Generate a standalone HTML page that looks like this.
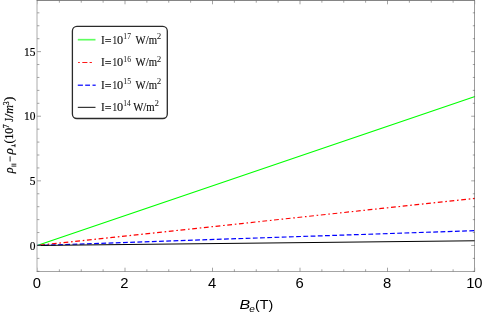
<!DOCTYPE html>
<html><head><meta charset="utf-8"><title>plot</title>
<style>html,body{margin:0;padding:0;background:#fff;width:484px;height:313px;overflow:hidden}</style></head>
<body>
<svg width="484" height="313" viewBox="0 0 484 313" style="position:absolute;left:0;top:0;will-change:transform;">
<g fill="none" stroke-width="1.2">
<line x1="37.20" y1="245.47" x2="475.00" y2="96.46" stroke="#00ff00"/>
<line x1="37.20" y1="245.47" x2="475.00" y2="198.43" stroke="#ff0000" stroke-dasharray="4.8 2.75 1.6 2.613" stroke-dashoffset="-2.95"/>
<line x1="37.20" y1="245.47" x2="475.00" y2="230.61" stroke="#0000ff" stroke-dasharray="4.8 2.42" stroke-dashoffset="0.8"/>
<line x1="37.20" y1="245.47" x2="475.00" y2="240.77" stroke="#000" stroke-width="1.0"/>
</g>
<g stroke="#666" stroke-width="0.6" fill="none">
<path d="M37.0 0V271.8" stroke-width="0.55"/><path d="M474.5 0V271.8" stroke-width="0.65"/><path d="M36.7 0.5H474.8" stroke-width="0.8"/><path d="M36.7 271.5H474.8" stroke-width="0.6"/>
<path d="M37.50 271.5v-3.8M37.50 0.5v3.8" opacity="0.35"/>
<path d="M59.38 271.5v-2.2M59.38 0.5v2.2"/>
<path d="M81.25 271.5v-2.2M81.25 0.5v2.2"/>
<path d="M103.12 271.5v-2.2M103.12 0.5v2.2"/>
<path d="M125.00 271.5v-3.8M125.00 0.5v3.8"/>
<path d="M146.88 271.5v-2.2M146.88 0.5v2.2"/>
<path d="M168.75 271.5v-2.2M168.75 0.5v2.2"/>
<path d="M190.62 271.5v-2.2M190.62 0.5v2.2"/>
<path d="M212.50 271.5v-3.8M212.50 0.5v3.8"/>
<path d="M234.38 271.5v-2.2M234.38 0.5v2.2"/>
<path d="M256.25 271.5v-2.2M256.25 0.5v2.2"/>
<path d="M278.12 271.5v-2.2M278.12 0.5v2.2"/>
<path d="M300.00 271.5v-3.8M300.00 0.5v3.8"/>
<path d="M321.88 271.5v-2.2M321.88 0.5v2.2"/>
<path d="M343.75 271.5v-2.2M343.75 0.5v2.2"/>
<path d="M365.62 271.5v-2.2M365.62 0.5v2.2"/>
<path d="M387.50 271.5v-3.8M387.50 0.5v3.8"/>
<path d="M409.38 271.5v-2.2M409.38 0.5v2.2"/>
<path d="M431.25 271.5v-2.2M431.25 0.5v2.2"/>
<path d="M453.12 271.5v-2.2M453.12 0.5v2.2"/>
<path d="M475.00 271.5v-3.8M475.00 0.5v3.8" opacity="0.35"/>
<path d="M37.20 271.32h2.2M475.00 271.32h-2.2"/>
<path d="M37.20 258.39h2.2M475.00 258.39h-2.2"/>
<path d="M37.20 245.47h3.8M475.00 245.47h-3.8"/>
<path d="M37.20 232.55h2.2M475.00 232.55h-2.2"/>
<path d="M37.20 219.62h2.2M475.00 219.62h-2.2"/>
<path d="M37.20 206.70h2.2M475.00 206.70h-2.2"/>
<path d="M37.20 193.77h2.2M475.00 193.77h-2.2"/>
<path d="M37.20 180.85h3.8M475.00 180.85h-3.8"/>
<path d="M37.20 167.93h2.2M475.00 167.93h-2.2"/>
<path d="M37.20 155.00h2.2M475.00 155.00h-2.2"/>
<path d="M37.20 142.08h2.2M475.00 142.08h-2.2"/>
<path d="M37.20 129.15h2.2M475.00 129.15h-2.2"/>
<path d="M37.20 116.23h3.8M475.00 116.23h-3.8"/>
<path d="M37.20 103.31h2.2M475.00 103.31h-2.2"/>
<path d="M37.20 90.38h2.2M475.00 90.38h-2.2"/>
<path d="M37.20 77.46h2.2M475.00 77.46h-2.2"/>
<path d="M37.20 64.53h2.2M475.00 64.53h-2.2"/>
<path d="M37.20 51.61h3.8M475.00 51.61h-3.8"/>
<path d="M37.20 38.69h2.2M475.00 38.69h-2.2"/>
<path d="M37.20 25.76h2.2M475.00 25.76h-2.2"/>
<path d="M37.20 12.84h2.2M475.00 12.84h-2.2"/>
</g>
<text transform="translate(32.83,287.55) scale(1.000,1)" font-family="Liberation Sans, serif" font-size="14.8" fill="#000">0</text>
<text transform="translate(120.37,287.55) scale(1.000,1)" font-family="Liberation Sans, serif" font-size="14.8" fill="#000">2</text>
<text transform="translate(207.96,287.55) scale(1.000,1)" font-family="Liberation Sans, serif" font-size="14.8" fill="#000">4</text>
<text transform="translate(295.40,287.55) scale(1.000,1)" font-family="Liberation Sans, serif" font-size="14.8" fill="#000">6</text>
<text transform="translate(382.99,287.55) scale(1.000,1)" font-family="Liberation Sans, serif" font-size="14.8" fill="#000">8</text>
<text transform="translate(466.14,287.55) scale(1.000,1)" font-family="Liberation Sans, serif" font-size="14.8" fill="#000">10</text>
<g font-family="Liberation Serif, serif" font-size="11.7" fill="#000" text-anchor="end" stroke="#000" stroke-width="0.18">
<text transform="translate(35.5,249.72) scale(0.98,1.1)">0</text>
<text transform="translate(35.5,185.10) scale(0.98,1.1)">5</text>
<text transform="translate(35.5,120.48) scale(0.98,1.1)">10</text>
<text transform="translate(35.5,55.86) scale(0.98,1.1)">15</text>
</g>
<text transform="translate(239.46,308.75) scale(1.227,1)" font-family="Liberation Sans, serif" font-style="italic" font-size="13" fill="#000">B</text>
<text transform="translate(249.16,312.05) scale(1.097,1)" font-family="Liberation Sans, serif" font-style="italic" font-size="9.2" fill="#000">e</text>
<text transform="translate(254.96,308.75) scale(1.101,1)" font-family="Liberation Sans, serif" font-size="13" fill="#000">(T)</text>
<g transform="rotate(-90)">
<text transform="translate(-173.19,12.60) scale(1.043,1)" font-family="Liberation Serif, serif" font-style="italic" font-size="11.7" fill="#000" stroke="#000" stroke-width="0.2">ρ</text>
<text transform="translate(-154.56,12.60) scale(1.133,1)" font-family="Liberation Serif, serif" font-style="italic" font-size="11.7" fill="#000" stroke="#000" stroke-width="0.2">ρ</text>
<text transform="translate(-143.52,12.60) scale(1.004,1)" font-family="Liberation Serif, serif" font-size="11.7" fill="#000" stroke="#000" stroke-width="0.2">(10</text>
<text transform="translate(-128.32,8.50) scale(1.025,1)" font-family="Liberation Serif, serif" font-size="7.7" fill="#000" stroke="#000" stroke-width="0.2">7</text>
<text transform="translate(-121.81,12.60) scale(0.862,1)" font-family="Liberation Serif, serif" font-size="11.7" fill="#000" stroke="#000" stroke-width="0.2">J</text>
<text transform="translate(-117.80,12.90) scale(1.323,1)" font-family="Liberation Serif, serif" font-size="11.7" fill="#000" stroke="#000" stroke-width="0.2">/</text>
<text transform="translate(-113.84,12.60) scale(1.035,1)" font-family="Liberation Serif, serif" font-style="italic" font-size="11.7" fill="#000" stroke="#000" stroke-width="0.2">m</text>
<text transform="translate(-105.27,8.50) scale(1.006,1)" font-family="Liberation Serif, serif" font-size="7.7" fill="#000" stroke="#000" stroke-width="0.2">3</text>
<text transform="translate(-100.93,12.60) scale(1.131,1)" font-family="Liberation Serif, serif" font-size="11.7" fill="#000" stroke="#000" stroke-width="0.2">)</text>
</g>
<path d="M11.5 164.2H16.3M11.5 166.1H16.3M10.1 156.3V161.5M15.0 144V147.2M11.4 145.6H15.0" stroke="#000" stroke-width="0.85" fill="none"/>
<rect x="72.4" y="26.4" width="94.9" height="92.1" rx="4.5" ry="4.5" fill="#fff" stroke="#2a2a2a" stroke-width="1.3"/>
<path d="M77.8 39.7H95.5" stroke="#00ff00" stroke-width="1.7" opacity="0.62"/>
<text transform="translate(100.94,43.80) scale(0.963,1)" font-family="Liberation Serif, serif" font-size="11.7" fill="#111" stroke="#111" stroke-width="0.14">I</text>
<text transform="translate(104.80,44.70) scale(1.029,1)" font-family="Liberation Serif, serif" font-size="11.7" fill="#111" stroke="#111" stroke-width="0.14">=</text>
<text transform="translate(112.50,43.80) scale(0.777,1)" font-family="Liberation Serif, serif" font-size="11.7" fill="#111" stroke="#111" stroke-width="0.14">1</text>
<text transform="translate(117.03,43.80) scale(1.049,1)" font-family="Liberation Serif, serif" font-size="11.7" fill="#111" stroke="#111" stroke-width="0.14">0</text>
<text transform="translate(123.32,39.10) scale(1.026,1)" font-family="Liberation Serif, serif" font-size="7.5" fill="#111" stroke="#111" stroke-width="0">17</text>
<text transform="translate(135.59,43.80) scale(0.918,1)" font-family="Liberation Serif, serif" font-size="11.7" fill="#111" stroke="#111" stroke-width="0.14">W/m</text>
<text transform="translate(156.81,39.10) scale(1.197,1)" font-family="Liberation Serif, serif" font-size="7.5" fill="#111" stroke="#111" stroke-width="0">2</text>
<path d="M78.1 62.5h1.7M82.3 62.5h5.1M89.6 62.5h2.3" stroke="#ff0000" stroke-width="1.15" opacity="0.9"/>
<text transform="translate(100.94,66.20) scale(0.963,1)" font-family="Liberation Serif, serif" font-size="11.7" fill="#111" stroke="#111" stroke-width="0.14">I</text>
<text transform="translate(104.80,67.10) scale(1.029,1)" font-family="Liberation Serif, serif" font-size="11.7" fill="#111" stroke="#111" stroke-width="0.14">=</text>
<text transform="translate(112.50,66.20) scale(0.777,1)" font-family="Liberation Serif, serif" font-size="11.7" fill="#111" stroke="#111" stroke-width="0.14">1</text>
<text transform="translate(117.03,66.20) scale(1.049,1)" font-family="Liberation Serif, serif" font-size="11.7" fill="#111" stroke="#111" stroke-width="0.14">0</text>
<text transform="translate(123.32,61.50) scale(1.028,1)" font-family="Liberation Serif, serif" font-size="7.5" fill="#111" stroke="#111" stroke-width="0">16</text>
<text transform="translate(135.59,66.20) scale(0.918,1)" font-family="Liberation Serif, serif" font-size="11.7" fill="#111" stroke="#111" stroke-width="0.14">W/m</text>
<text transform="translate(156.81,61.50) scale(1.197,1)" font-family="Liberation Serif, serif" font-size="7.5" fill="#111" stroke="#111" stroke-width="0">2</text>
<path d="M77.8 85.2h5.1M85.2 85.2h4.8M92.5 85.2h3.2" stroke="#0000ff" stroke-width="1.4" opacity="0.8"/>
<text transform="translate(100.94,88.80) scale(0.963,1)" font-family="Liberation Serif, serif" font-size="11.7" fill="#111" stroke="#111" stroke-width="0.14">I</text>
<text transform="translate(104.80,89.70) scale(1.029,1)" font-family="Liberation Serif, serif" font-size="11.7" fill="#111" stroke="#111" stroke-width="0.14">=</text>
<text transform="translate(112.50,88.80) scale(0.777,1)" font-family="Liberation Serif, serif" font-size="11.7" fill="#111" stroke="#111" stroke-width="0.14">1</text>
<text transform="translate(117.03,88.80) scale(1.049,1)" font-family="Liberation Serif, serif" font-size="11.7" fill="#111" stroke="#111" stroke-width="0.14">0</text>
<text transform="translate(123.32,84.10) scale(1.039,1)" font-family="Liberation Serif, serif" font-size="7.5" fill="#111" stroke="#111" stroke-width="0">15</text>
<text transform="translate(135.59,88.80) scale(0.918,1)" font-family="Liberation Serif, serif" font-size="11.7" fill="#111" stroke="#111" stroke-width="0.14">W/m</text>
<text transform="translate(156.81,84.10) scale(1.197,1)" font-family="Liberation Serif, serif" font-size="7.5" fill="#111" stroke="#111" stroke-width="0">2</text>
<path d="M77.8 107.4H95.5" stroke="#000" stroke-width="1.25" opacity="0.78"/>
<text transform="translate(100.94,111.10) scale(0.963,1)" font-family="Liberation Serif, serif" font-size="11.7" fill="#111" stroke="#111" stroke-width="0.14">I</text>
<text transform="translate(104.80,112.00) scale(1.029,1)" font-family="Liberation Serif, serif" font-size="11.7" fill="#111" stroke="#111" stroke-width="0.14">=</text>
<text transform="translate(112.50,111.10) scale(0.777,1)" font-family="Liberation Serif, serif" font-size="11.7" fill="#111" stroke="#111" stroke-width="0.14">1</text>
<text transform="translate(117.03,111.10) scale(1.049,1)" font-family="Liberation Serif, serif" font-size="11.7" fill="#111" stroke="#111" stroke-width="0.14">0</text>
<text transform="translate(123.33,106.40) scale(1.011,1)" font-family="Liberation Serif, serif" font-size="7.5" fill="#111" stroke="#111" stroke-width="0">14</text>
<text transform="translate(133.19,111.10) scale(0.918,1)" font-family="Liberation Serif, serif" font-size="11.7" fill="#111" stroke="#111" stroke-width="0.14">W/m</text>
<text transform="translate(154.41,106.40) scale(1.197,1)" font-family="Liberation Serif, serif" font-size="7.5" fill="#111" stroke="#111" stroke-width="0">2</text>
</svg>
</body></html>
